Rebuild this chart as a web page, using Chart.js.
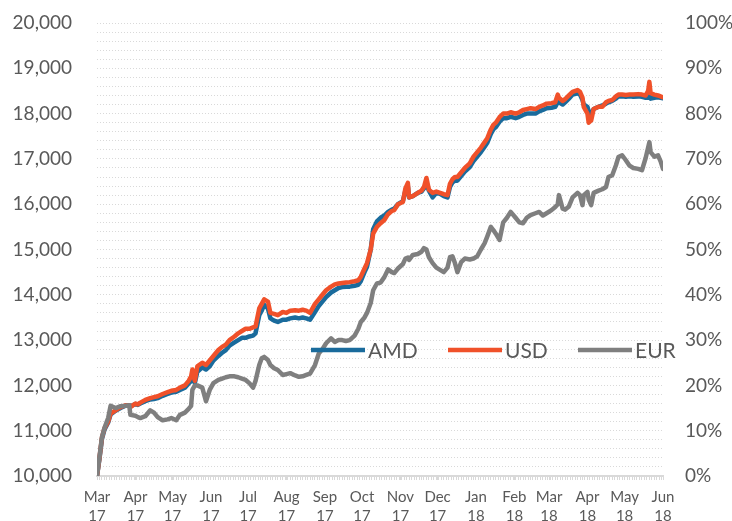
<!DOCTYPE html>
<html>
<head>
<meta charset="utf-8">
<script src="https://cdn.jsdelivr.net/npm/chart.js@4.4.1/dist/chart.umd.min.js"></script>
<style>
  html, body { margin: 0; padding: 0; background: #fff; }
</style>
</head>
<body>
<canvas id="grafico" width="732" height="521"></canvas>
<script>
// Días transcurridos desde el 1 de marzo de 2017
const dias = [
  0, 2, 4, 6, 9, 11, 15, 19, 23, 26, 27, 31, 33, 35, 39, 43, 46, 49, 53, 57,
  60, 64, 67, 71, 74, 76, 77, 79, 81, 85, 88, 91, 94, 98, 101, 104, 107, 111, 114, 117,
  120, 123, 126, 128, 131, 133, 135, 138, 140, 143, 146, 150, 153, 156, 160, 163, 166, 169, 172, 176,
  179, 182, 185, 189, 192, 195, 198, 201, 204, 208, 211, 213, 216, 218, 221, 223, 226, 229, 232, 235,
  238, 240, 243, 247, 249, 251, 252, 255, 259, 262, 264, 266, 268, 271, 274, 277, 280, 283, 285, 287,
  289, 291, 294, 297, 301, 304, 307, 310, 313, 315, 318, 320, 322, 325, 328, 331, 334, 338, 341, 344,
  347, 350, 354, 357, 360, 363, 367, 370, 372, 373, 376, 378, 381, 384, 388, 390, 392, 393, 396, 397,
  399, 401, 405, 408, 411, 413, 416, 419, 421, 424, 427, 430, 433, 437, 440, 443, 445, 446, 447, 450,
  453, 455, 457
];

const amd = [
  10000, 10380, 10820, 11020, 11180, 11360, 11440, 11500, 11550, 11560, 11540, 11590, 11570, 11600, 11650, 11690, 11700, 11720, 11770, 11810,
  11840, 11860, 11900, 11950, 12040, 12100, 12200, 12050, 12300, 12400, 12350, 12420, 12550, 12650, 12720, 12780, 12880, 12950, 13000, 13050,
  13050, 13080, 13100, 13150, 13550, 13650, 13780, 13700, 13480, 13430, 13400, 13450, 13450, 13480, 13500, 13480, 13500, 13480, 13450, 13620,
  13750, 13850, 13950, 14050, 14100, 14150, 14170, 14180, 14180, 14200, 14220, 14300, 14500, 14620, 15000, 15450, 15620, 15700, 15750, 15830,
  15880, 15900, 16000, 16070, 16300, 16400, 16150, 16180, 16250, 16280, 16350, 16450, 16300, 16150, 16250, 16230, 16180, 16150, 16380, 16480,
  16520, 16520, 16620, 16720, 16820, 16950, 17050, 17150, 17270, 17350, 17550, 17650, 17700, 17820, 17900, 17900, 17930, 17900, 17930, 17970,
  18000, 18000, 18000, 18050, 18080, 18120, 18130, 18150, 18250, 18250, 18200, 18250, 18330, 18420, 18450, 18420, 18300, 18200, 18150, 18050,
  18000, 18100, 18150, 18180, 18220, 18250, 18280, 18330, 18380, 18380, 18370, 18380, 18370, 18380, 18370, 18350, 18350, 18400, 18330, 18350,
  18360, 18350, 18340
];

const usd = [
  10000, 10400, 10850, 11050, 11200, 11380, 11450, 11520, 11560, 11560, 11520, 11600, 11580, 11620, 11680, 11720, 11740, 11760, 11810, 11850,
  11880, 11900, 11950, 12000, 12100, 12200, 12350, 12100, 12420, 12500, 12450, 12550, 12650, 12780, 12850, 12900, 13000, 13080, 13150, 13200,
  13250, 13250, 13280, 13300, 13700, 13800, 13900, 13850, 13600, 13580, 13550, 13620, 13600, 13650, 13660, 13650, 13670, 13650, 13600, 13800,
  13900, 14000, 14100, 14180, 14230, 14250, 14260, 14270, 14280, 14300, 14320, 14400, 14580, 14700, 15000, 15350, 15500, 15580, 15650, 15780,
  15850, 15870, 16000, 16050, 16350, 16470, 16150, 16180, 16250, 16300, 16380, 16580, 16320, 16250, 16280, 16250, 16220, 16200, 16450, 16550,
  16600, 16600, 16700, 16800, 16900, 17050, 17150, 17250, 17370, 17450, 17650, 17750, 17800, 17920, 18000, 18000, 18030, 18000, 18030, 18080,
  18100, 18120, 18100, 18150, 18180, 18220, 18230, 18250, 18420, 18350, 18280, 18320, 18400, 18480, 18520, 18480, 18350, 18150, 18000, 17800,
  17850, 18100, 18150, 18150, 18250, 18280, 18300, 18380, 18420, 18420, 18410, 18420, 18420, 18430, 18420, 18400, 18500, 18700, 18450, 18420,
  18400, 18380, 18360
];

const eur = [
  10000, 10420, 10860, 11060, 11280, 11550, 11500, 11540, 11550, 11560, 11350, 11330, 11300, 11280, 11320, 11450, 11400, 11300, 11230, 11250,
  11280, 11230, 11350, 11400, 11480, 11550, 11900, 12000, 12000, 11950, 11650, 11900, 12050, 12120, 12150, 12180, 12200, 12200, 12180, 12150,
  12120, 12050, 11950, 12100, 12450, 12600, 12630, 12560, 12450, 12380, 12340, 12230, 12250, 12270, 12220, 12190, 12200, 12230, 12260, 12450,
  12700, 12800, 12930, 13040, 12960, 13000, 13000, 12980, 13000, 13100, 13250, 13400, 13500, 13600, 13820, 14100, 14250, 14270, 14390, 14560,
  14500, 14480, 14580, 14680, 14800, 14820, 14770, 14880, 14900, 14950, 15030, 15000, 14830, 14700, 14600, 14550, 14500, 14600, 14830, 14850,
  14700, 14500, 14720, 14800, 14780, 14800, 14850, 15000, 15140, 15280, 15500, 15430, 15350, 15210, 15600, 15700, 15830, 15700, 15600, 15580,
  15700, 15760, 15800, 15830, 15750, 15800, 15870, 15940, 16000, 16200, 15900, 15880, 15950, 16150, 16250, 16200, 15980, 16200, 16270, 16100,
  15980, 16250, 16300, 16330, 16380, 16600, 16640, 16860, 17040, 17080, 16970, 16850, 16800, 16780, 16750, 17020, 17250, 17370, 17150, 17050,
  17080, 16950, 16780
];

// Inicio de cada mes (en días) y sus etiquetas
const mesesDias = [0, 31, 61, 92, 122, 153, 184, 214, 245, 275, 306, 337, 365, 396, 426, 457];
const mesesEtiquetas = [
  ['Mar', '17'], ['Apr', '17'], ['May', '17'], ['Jun', '17'], ['Jul', '17'], ['Aug', '17'],
  ['Sep', '17'], ['Oct', '17'], ['Nov', '17'], ['Dec', '17'], ['Jan', '18'], ['Feb', '18'],
  ['Mar', '18'], ['Apr', '18'], ['May', '18'], ['Jun', '18']
];

const colorAMD = '#1a6b9c';
const colorUSD = '#f0512a';
const colorEUR = '#7f7f7f';
const colorTexto = '#595959';
const fuente = 'Lato, "Open Sans", sans-serif';

function serie(valores) {
  return dias.map((d, i) => ({ x: d, y: valores[i] }));
}

// Quita el margen extra que los ejes verticales piden arriba y abajo
function ajustarVertical(ancho) {
  return scale => {
    scale.width = ancho;
    scale.paddingTop = 0;
    scale.paddingBottom = 0;
  };
}

// Leyenda dibujada dentro del área del gráfico
const leyenda = {
  id: 'leyenda',
  afterDatasetsDraw(chart) {
    const ctx = chart.ctx;
    const y = 350;
    const items = [
      { texto: 'AMD', color: colorAMD, x: 311 },
      { texto: 'USD', color: colorUSD, x: 448 },
      { texto: 'EUR', color: colorEUR, x: 578 }
    ];
    ctx.save();
    ctx.font = '21px ' + fuente;
    ctx.textBaseline = 'middle';
    ctx.textAlign = 'left';
    items.forEach(item => {
      ctx.strokeStyle = item.color;
      ctx.lineWidth = 4.5;
      ctx.beginPath();
      ctx.moveTo(item.x, y);
      ctx.lineTo(item.x + 54, y);
      ctx.stroke();
      ctx.fillStyle = colorTexto;
      ctx.fillText(item.texto, item.x + 57, y + 1);
    });
    ctx.restore();
  }
};

const config = {
  type: 'line',
  data: {
    datasets: [
      { label: 'AMD', data: serie(amd), borderColor: colorAMD, order: 2 },
      { label: 'USD', data: serie(usd), borderColor: colorUSD, order: 1 },
      { label: 'EUR', data: serie(eur), borderColor: colorEUR, order: 0 }
    ]
  },
  options: {
    responsive: false,
    animation: false,
    layout: { padding: { top: 23, left: 0, right: 0, bottom: 0 } },
    elements: {
      point: { radius: 0 },
      line: { borderWidth: 4.5, tension: 0, borderJoinStyle: 'round', borderCapStyle: 'round' }
    },
    plugins: {
      legend: { display: false },
      tooltip: { enabled: false }
    },
    scales: {
      x: {
        type: 'linear',
        min: 0,
        max: 457,
        afterBuildTicks: scale => {
          const valores = new Set(mesesDias);
          for (let d = 0; d <= 457; d += 2) valores.add(d);
          scale.ticks = [...valores].sort((a, b) => a - b).map(v => ({ value: v }));
        },
        afterFit: scale => { scale.height = 45; },
        ticks: {
          autoSkip: false,
          maxRotation: 0,
          minRotation: 0,
          padding: 8,
          color: colorTexto,
          font: { family: fuente, size: 15, lineHeight: 1.25 },
          callback: value => {
            const i = mesesDias.indexOf(value);
            return i >= 0 ? mesesEtiquetas[i] : '';
          }
        },
        grid: { drawOnChartArea: false, drawTicks: true, tickLength: 4, color: '#d9d9d9' },
        border: { color: '#d9d9d9', width: 2 }
      },
      y: {
        position: 'left',
        min: 10000,
        max: 20000,
        afterBuildTicks: scale => {
          const t = [];
          for (let v = 10000; v <= 20000; v += 200) t.push({ value: v });
          scale.ticks = t;
        },
        afterFit: ajustarVertical(97),
        ticks: {
          autoSkip: false,
          padding: 25,
          color: colorTexto,
          font: { family: fuente, size: 19 },
          callback: value => value % 1000 === 0 ? value.toLocaleString('en-US') : ''
        },
        grid: { color: '#d9d9d9', drawTicks: false, lineWidth: 1 },
        border: { display: false, dash: [1, 2] }
      },
      y2: {
        position: 'right',
        min: 0,
        max: 100,
        afterFit: ajustarVertical(69),
        ticks: {
          stepSize: 10,
          padding: 22,
          color: colorTexto,
          font: { family: fuente, size: 19 },
          callback: value => value + '%'
        },
        grid: { drawOnChartArea: false, drawTicks: false },
        border: { display: false }
      }
    }
  },
  plugins: [leyenda]
};

new Chart(document.getElementById('grafico'), config);
</script>
</body>
</html>
